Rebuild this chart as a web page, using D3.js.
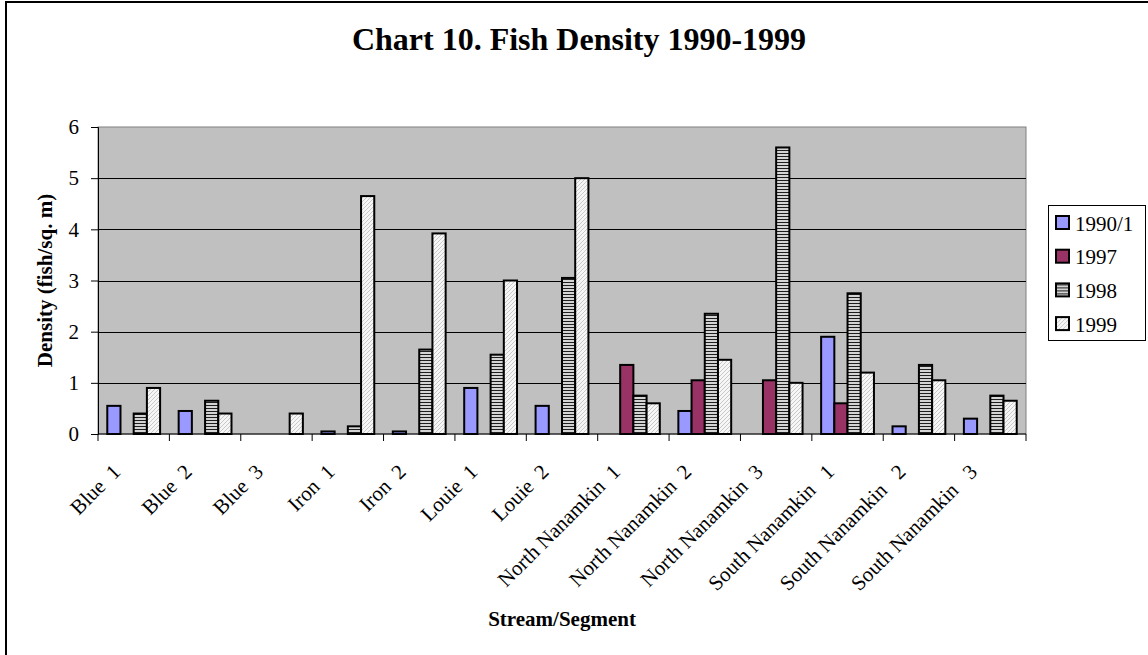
<!DOCTYPE html>
<html>
<head>
<meta charset="utf-8">
<script src="https://cdn.jsdelivr.net/npm/d3@7"></script>
<style>
  html, body { margin: 0; padding: 0; background: #fff; overflow: hidden; }
  svg { display: block; font-family: "Liberation Serif", "Times New Roman", serif; }
</style>
</head>
<body>
<svg id="chart" width="1148" height="655"></svg>
<script>
const categories = ["Blue  1", "Blue  2", "Blue  3", "Iron  1", "Iron  2", "Louie  1", "Louie  2",
  "North Nanamkin  1", "North Nanamkin  2", "North Nanamkin  3",
  "South Nanamkin   1", "South Nanamkin   2", "South Nanamkin   3"];
const seriesNames = ["1990/1", "1997", "1998", "1999"];
const vals1990 = [0.55, 0.45, null, 0.05, 0.05, 0.9, 0.55, null, 0.45, null, 1.9, 0.15, 0.3];
const vals1997 = [null, null, null, null, null, null, null, 1.35, 1.05, 1.05, 0.6, null, null];
const vals1998 = [0.4, 0.65, null, 0.15, 1.65, 1.55, 3.05, 0.75, 2.35, 5.6, 2.75, 1.35, 0.75];
const vals1999 = [0.9, 0.4, 0.4, 4.65, 3.92, 3.0, 5.0, 0.6, 1.45, 1.0, 1.2, 1.05, 0.65];
const yTicks = [0, 1, 2, 3, 4, 5, 6];

const seriesVals = [vals1990, vals1997, vals1998, vals1999];
const rows = [];
categories.forEach((c, i) => seriesNames.forEach((s, j) => {
  if (seriesVals[j][i] != null) rows.push({cat: c, series: s, value: seriesVals[j][i]});
}));

const svg = d3.select("#chart");
const plot = {left: 98, right: 1026, top: 127, bottom: 434};

// fills
const defs = svg.append("defs");
const p98 = defs.append("pattern").attr("id", "p1998").attr("patternUnits", "userSpaceOnUse")
  .attr("width", 4).attr("height", 3);
p98.append("rect").attr("width", 4).attr("height", 3).attr("fill", "#d4d4d4");
p98.append("rect").attr("width", 4).attr("height", 1).attr("fill", "#1e1e1e");
const p99 = defs.append("pattern").attr("id", "p1999").attr("patternUnits", "userSpaceOnUse")
  .attr("width", 4).attr("height", 4);
p99.append("rect").attr("width", 4).attr("height", 4).attr("fill", "#f6f6f6");
p99.append("path").attr("d", "M0,4L4,0M-1,1L1,-1M3,5L5,3").attr("stroke", "#c8c8c8").attr("stroke-width", 1);
const fills = {"1990/1": "#9999ff", "1997": "#993366", "1998": "url(#p1998)", "1999": "url(#p1999)"};

// outer frame (only left and top edges are inside the picture)
svg.append("path").attr("d", "M6,655V2H1148").attr("fill", "none").attr("stroke", "#000").attr("stroke-width", 2);

const x0 = d3.scaleBand().domain(categories).range([plot.left, plot.right]).padding(0);
const step = x0.step();
const x1 = d3.scaleBand().domain(seriesNames).range([step * 0.13, step * 0.87]).padding(0);
const y = d3.scaleLinear().domain([0, 6]).range([plot.bottom, plot.top]);

svg.append("rect").attr("x", plot.left).attr("y", plot.top)
  .attr("width", plot.right - plot.left).attr("height", plot.bottom - plot.top)
  .attr("fill", "#c0c0c0").attr("stroke", "#808080").attr("stroke-width", 1);

svg.append("g").selectAll("line").data(yTicks.filter(t => t > 0 && t < 6)).join("line")
  .attr("x1", plot.left).attr("x2", plot.right)
  .attr("y1", d => Math.round(y(d)) + 0.5).attr("y2", d => Math.round(y(d)) + 0.5)
  .attr("stroke", "#000").attr("stroke-width", 1);

// bars
svg.append("g").selectAll("rect").data(rows).join("rect")
  .attr("x", d => x0(d.cat) + x1(d.series))
  .attr("y", d => y(d.value))
  .attr("width", x1.bandwidth())
  .attr("height", d => y(0) - y(d.value))
  .attr("fill", d => fills[d.series])
  .attr("stroke", "#000").attr("stroke-width", 2);

// y axis
const yAxis = svg.append("g").attr("transform", `translate(${plot.left},0)`)
  .call(d3.axisLeft(y).tickValues(yTicks).tickSize(7).tickPadding(12).tickFormat(d3.format("d")));
yAxis.select(".domain").attr("stroke", "#000");
yAxis.selectAll("text").attr("font-family", "Liberation Serif").attr("font-size", 21).attr("fill", "#000");

// x axis (ticks at category boundaries)
const xAxis = svg.append("g").attr("transform", `translate(0,${plot.bottom})`);
xAxis.append("line").attr("x1", plot.left).attr("x2", plot.right).attr("stroke", "#000");
xAxis.selectAll("line.tk").data(categories.concat([null])).join("line").attr("class", "tk")
  .attr("x1", (d, i) => plot.left + i * step).attr("x2", (d, i) => plot.left + i * step)
  .attr("y1", 0).attr("y2", 7).attr("stroke", "#000");
xAxis.selectAll("text").data(categories).join("text")
  .attr("transform", d => `translate(${x0(d) + step / 2 - 12},39) rotate(-45)`)
  .attr("text-anchor", "end")
  .style("white-space", "pre")
  .attr("font-size", 21)
  .text(d => d);

// titles
svg.append("text").attr("x", 579).attr("y", 50).attr("text-anchor", "middle")
  .attr("font-size", 32).attr("font-weight", "bold").text("Chart 10. Fish Density 1990-1999");
svg.append("text").attr("transform", `translate(52,${(plot.top + plot.bottom) / 2}) rotate(-90)`)
  .attr("text-anchor", "middle").attr("font-size", 21).attr("font-weight", "bold")
  .text("Density (fish/sq. m)");
svg.append("text").attr("x", (plot.left + plot.right) / 2).attr("y", 626).attr("text-anchor", "middle")
  .attr("font-size", 21).attr("font-weight", "bold").text("Stream/Segment");

// legend
const legend = svg.append("g");
legend.append("rect").attr("x", 1048.5).attr("y", 205.5).attr("width", 97).attr("height", 135)
  .attr("fill", "#fff").attr("stroke", "#000").attr("stroke-width", 1);
const li = legend.selectAll("g.item").data(seriesNames).join("g").attr("class", "item")
  .attr("transform", (d, i) => `translate(1056,${223 + i * 33.7})`);
li.append("rect").attr("x", 0).attr("y", -7).attr("width", 13).attr("height", 13)
  .attr("fill", d => fills[d]).attr("stroke", "#000").attr("stroke-width", 2);
li.append("text").attr("x", 19).attr("y", 7.5).attr("font-size", 21).text(d => d);
</script>
</body>
</html>
